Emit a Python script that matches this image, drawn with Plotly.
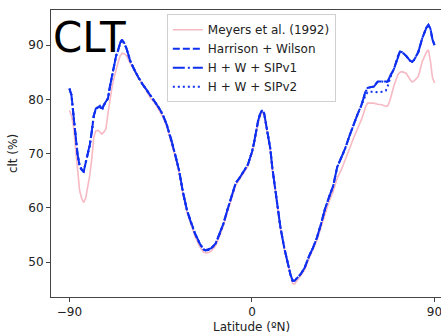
import plotly.graph_objects as go

# Zonal-mean total cloud cover (clt) against latitude
lat = [-90, -89, -88, -87, -86, -85, -84, -83, -82, -81, -80, -79, -78, -77, -76, -75,
       -74, -73, -72, -71, -70, -69, -68, -67, -66, -65, -64, -63, -62, -60, -58, -56,
       -54, -52, -50, -48, -46, -44, -42, -40, -38, -36, -34, -32, -30, -28, -26, -24,
       -23, -22, -20, -18, -16, -14, -12, -10, -8, -6, -4, -2, -1, 0, 1, 2, 3, 4, 5, 6,
       7, 8, 9, 10, 11, 12, 14, 16, 18, 19, 20, 21, 22, 24, 26, 28, 30, 32, 34, 36, 38,
       40, 42, 44, 46, 48, 50, 52, 54, 55, 56, 57, 58, 60, 62, 64, 66, 67, 68, 70, 72,
       73, 74, 76, 78, 79, 80, 82, 84, 85, 86, 87, 88, 89, 90]

meyers = [78.0, 77.0, 75.0, 71.5, 67.0, 63.2, 61.8, 61.0, 61.8, 63.9, 66.0, 69.0, 73.0,
          74.2, 74.3, 74.0, 73.6, 74.0, 74.6, 77.4, 80.0, 82.3, 84.0, 85.6, 86.8, 88.0,
          88.5, 88.4, 88.1, 86.6, 85.3, 84.2, 82.9, 81.4, 80.2, 79.4, 78.2, 76.8, 75.0,
          72.4, 69.6, 66.6, 62.4, 59.1, 56.8, 54.7, 53.0, 51.9, 51.7, 51.7, 52.1, 53.0,
          54.8, 56.8, 59.4, 62.0, 64.2, 65.3, 66.5, 67.7, 68.9, 70.0, 71.7, 73.8, 75.6,
          76.9, 77.6, 77.1, 75.2, 73.2, 70.7, 67.2, 64.4, 61.2, 56.2, 52.2, 48.9, 47.3,
          46.1, 46.0, 46.5, 47.4, 48.6, 50.6, 52.2, 54.0, 56.4, 59.0, 61.2, 63.0, 65.5,
          67.0, 68.8, 70.8, 72.8, 74.5, 76.3, 77.4, 78.6, 79.3, 79.3, 79.3, 79.1, 79.0,
          78.7, 78.8, 79.8, 82.5, 84.6, 85.0, 85.1, 84.8, 83.6, 83.2, 83.4, 84.2, 87.0,
          88.0, 88.7, 89.1, 87.0, 84.0, 83.0]

harrison_wilson = [82.0, 80.8, 77.0, 73.5, 69.8, 67.8, 67.0, 66.7, 68.5, 70.0, 71.5, 74.0,
                   77.0, 78.2, 78.6, 78.8, 78.0, 79.0, 79.4, 80.2, 82.5, 84.5, 86.3, 88.0,
                   89.0, 90.4, 91.0, 90.3, 89.5, 87.0, 85.4, 84.0, 82.8, 81.8, 80.6, 79.6,
                   78.5, 77.2, 75.3, 72.8, 70.0, 67.0, 62.8, 59.5, 57.2, 55.2, 53.6, 52.4,
                   52.2, 52.2, 52.6, 53.4, 55.2, 57.2, 59.8, 62.4, 64.6, 65.6, 66.8, 68.0,
                   69.2, 70.3, 72.0, 74.2, 76.0, 77.3, 78.0, 77.4, 75.5, 73.5, 71.0, 67.5,
                   64.7, 61.5, 56.5, 52.5, 49.2, 47.7, 46.6, 46.6, 47.0, 47.8, 49.0, 51.0,
                   52.6, 54.5, 57.0, 59.8, 62.0, 64.0, 67.5, 69.3, 71.0, 73.2, 75.3, 77.2,
                   79.0, 80.2, 81.5, 82.1, 82.2, 82.4, 83.3, 83.3, 83.2, 83.3, 84.2, 85.6,
                   88.0, 88.8, 88.7, 88.0, 87.1, 86.9, 87.3, 88.7, 91.3, 92.3, 93.2, 93.7,
                   93.0, 91.0, 90.0]

hw_sipv1 = [81.9, 80.7, 77.1, 73.4, 69.9, 67.7, 67.1, 66.6, 68.4, 70.1, 71.6, 74.1,
            77.0, 78.3, 78.6, 78.7, 78.1, 79.0, 79.5, 80.2, 82.4, 84.5, 86.2, 88.0,
            89.1, 90.4, 91.0, 90.4, 89.5, 87.1, 85.4, 84.1, 82.8, 81.8, 80.6, 79.6,
            78.5, 77.2, 75.3, 72.9, 70.0, 67.0, 62.9, 59.5, 57.2, 55.2, 53.7, 52.4,
            52.2, 52.3, 52.6, 53.4, 55.2, 57.2, 59.8, 62.4, 64.6, 65.6, 66.8, 68.0,
            69.2, 70.3, 72.0, 74.2, 76.0, 77.3, 78.0, 77.4, 75.5, 73.5, 71.0, 67.5,
            64.7, 61.5, 56.5, 52.5, 49.2, 47.7, 46.7, 46.6, 47.0, 47.8, 49.0, 51.0,
            52.6, 54.5, 57.0, 59.8, 62.0, 64.0, 67.5, 69.3, 71.0, 73.2, 75.3, 77.2,
            79.0, 80.2, 81.4, 82.0, 82.2, 82.3, 83.2, 83.3, 83.1, 83.3, 84.2, 85.6,
            88.0, 88.8, 88.7, 88.0, 87.1, 86.9, 87.3, 88.7, 91.3, 92.3, 93.2, 93.7,
            93.0, 91.0, 90.0]

hw_sipv2 = [82.0, 80.8, 77.0, 73.5, 69.8, 67.8, 67.0, 66.7, 68.5, 70.0, 71.5, 74.0,
            77.0, 78.2, 78.6, 78.8, 78.0, 79.0, 79.4, 80.2, 82.5, 84.5, 86.3, 88.0,
            89.0, 90.4, 91.0, 90.3, 89.5, 87.0, 85.4, 84.0, 82.8, 81.8, 80.6, 79.6,
            78.5, 77.2, 75.3, 72.8, 70.0, 67.0, 62.8, 59.5, 57.2, 55.2, 53.6, 52.4,
            52.2, 52.2, 52.6, 53.4, 55.2, 57.2, 59.8, 62.4, 64.6, 65.6, 66.8, 68.0,
            69.2, 70.3, 72.0, 74.2, 76.0, 77.3, 78.0, 77.4, 75.5, 73.5, 71.0, 67.5,
            64.7, 61.5, 56.5, 52.5, 49.2, 47.7, 46.6, 46.6, 47.0, 47.8, 49.0, 51.0,
            52.6, 54.5, 57.0, 59.8, 62.0, 64.0, 67.5, 69.3, 71.0, 73.2, 75.3, 77.2,
            78.9, 79.8, 80.8, 81.3, 81.4, 81.4, 81.3, 81.4, 81.6, 82.5, 83.8, 85.6,
            88.0, 88.8, 88.7, 88.0, 87.1, 86.9, 87.3, 88.7, 91.3, 92.3, 93.2, 93.7,
            93.0, 91.0, 90.0]

x_ticks = [-90, 0, 90]
y_ticks = [50, 60, 70, 80, 90]

FONT = "DejaVu Sans"
BLUE = "#1030f0"

fig = go.Figure()
fig.add_trace(go.Scatter(x=lat, y=meyers, mode="lines", name="Meyers et al. (1992)",
                         line=dict(color="#f7b9c4", width=1.6)))
fig.add_trace(go.Scatter(x=lat, y=harrison_wilson, mode="lines", name="Harrison + Wilson",
                         line=dict(color=BLUE, width=2, dash="7px,3px")))
fig.add_trace(go.Scatter(x=lat, y=hw_sipv1, mode="lines", name="H + W + SIPv1",
                         line=dict(color=BLUE, width=2, dash="12px,3px,2px,3px")))
fig.add_trace(go.Scatter(x=lat, y=hw_sipv2, mode="lines", name="H + W + SIPv2",
                         line=dict(color=BLUE, width=2, dash="2px,3px")))

fig.add_annotation(text="CLT", x=0, y=0.905, xref="paper", yref="paper",
                   xanchor="left", yanchor="middle", showarrow=False,
                   font=dict(family=FONT, size=42, color="black"))

# x-axis title centred on 0° latitude
fig.add_annotation(text="Latitude (ºN)", x=0, xref="x", y=-0.103, yref="paper",
                   xanchor="center", yanchor="middle", showarrow=False,
                   font=dict(family=FONT, size=12, color="#222"))

fig.update_layout(
    width=441, height=333,
    margin=dict(l=51, r=0, t=10, b=36),
    paper_bgcolor="white", plot_bgcolor="white",
    font=dict(family=FONT, size=12, color="#222"),
    showlegend=True,
    legend=dict(x=0.297, y=0.985, xanchor="left", yanchor="top",
                bgcolor="white", bordercolor="#d0d0d0", borderwidth=1,
                font=dict(family=FONT, size=12, color="#222"),
                itemwidth=30, tracegroupgap=0),
    xaxis=dict(range=[-99.1, 93.2], tickvals=x_ticks, showgrid=False, zeroline=False,
               showline=True, linecolor="#444", linewidth=1, mirror=True,
               ticks="outside", ticklen=4, tickcolor="#444",
               ticklabeloverflow="allow"),
    yaxis=dict(range=[43.6, 96.45], tickvals=y_ticks, showgrid=False, zeroline=False,
               showline=True, linecolor="#444", linewidth=1,
               ticks="outside", ticklen=4, tickcolor="#444",
               title=dict(text="clt (%)", standoff=8,
                          font=dict(family=FONT, size=12, color="#222"))),
)

fig.write_html("out.html")
